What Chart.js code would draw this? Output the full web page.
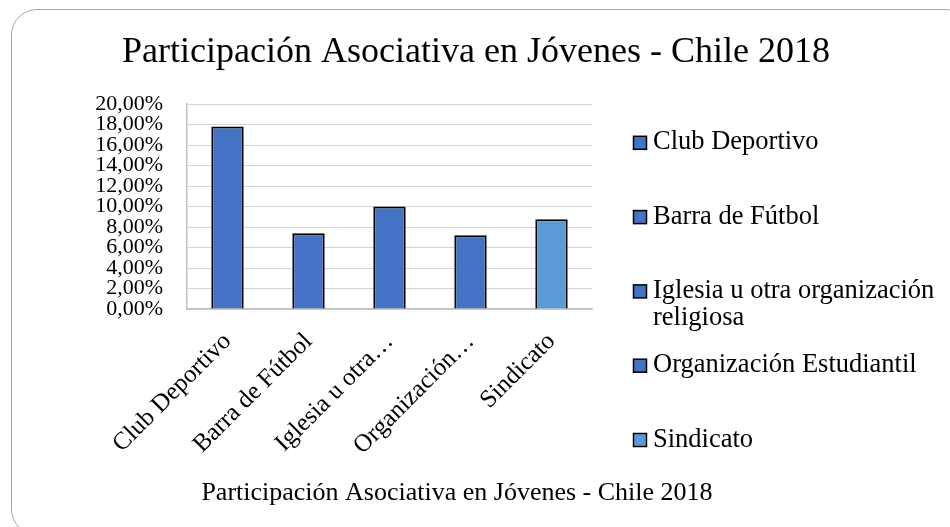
<!DOCTYPE html>
<html>
<head>
<meta charset="utf-8">
<script src="https://cdn.jsdelivr.net/npm/chart.js@4"></script>
<style>
  html, body { margin: 0; padding: 0; background: #fff; overflow: hidden; }
  #wrap { position: relative; width: 950px; height: 527px; }
  #frame {
    position: absolute; left: 11px; top: 9px; width: 960px; height: 526px;
    border: 1.5px solid #a6a6a6; border-radius: 26px; box-sizing: border-box;
  }
  #myChart { position: absolute; left: 0; top: 0; }
</style>
</head>
<body>
<div id="wrap">
  <div id="frame"></div>
  <canvas id="myChart" width="950" height="527"></canvas>
</div>
<script>
// Chart data
const categories = ['Club Deportivo', 'Barra de Fútbol', 'Iglesia u otra organización religiosa', 'Organización Estudiantil', 'Sindicato'];
const tickLabels = ['Club Deportivo', 'Barra de Fútbol', 'Iglesia u otra…', 'Organización…', 'Sindicato'];
const values = [17.8, 7.4, 10.0, 7.2, 8.75];
const barColors = ['#4472C4', '#4472C4', '#4472C4', '#4472C4', '#5B9BD5'];
const chartTitle = 'Participación Asociativa en Jóvenes - Chile 2018';

const serif = "'Times New Roman', 'Liberation Serif', serif";

// Helper to wrap legend text into lines
function wrapText(ctx, text, maxWidth) {
  const words = text.split(' ');
  const lines = [];
  let line = '';
  words.forEach(word => {
    const test = line ? line + ' ' + word : word;
    if (ctx.measureText(test).width > maxWidth && line) {
      lines.push(line);
      line = word;
    } else {
      line = test;
    }
  });
  if (line) lines.push(line);
  return lines;
}

// Draws titles and the legend the way the spreadsheet does
const decorations = {
  id: 'decorations',
  afterDraw(chart) {
    const ctx = chart.ctx;
    ctx.save();
    ctx.fillStyle = '#000';
    ctx.textAlign = 'center';
    ctx.textBaseline = 'alphabetic';
    ctx.font = `36px ${serif}`;
    ctx.fillText(chartTitle, 476, 62);
    ctx.font = `26px ${serif}`;
    ctx.fillText(chartTitle, 457, 500);

    // legend
    ctx.textAlign = 'left';
    ctx.font = `26.5px ${serif}`;
    categories.forEach((label, i) => {
      const baseY = 149.3 + i * 74.3;
      ctx.fillStyle = barColors[i];
      ctx.fillRect(633.5, baseY - 13, 13, 13);
      ctx.strokeStyle = '#000';
      ctx.lineWidth = 1.5;
      ctx.strokeRect(633.5, baseY - 13, 13, 13);
      ctx.fillStyle = '#000';
      const lines = wrapText(ctx, label, 292);
      lines.forEach((ln, j) => ctx.fillText(ln, 653, baseY + j * 27));
    });
    ctx.restore();
  }
};

const ctx = document.getElementById('myChart').getContext('2d');
new Chart(ctx, {
  type: 'bar',
  data: {
    labels: tickLabels,
    datasets: [{
      label: chartTitle,
      data: values,
      backgroundColor: barColors,
      borderColor: '#000',
      borderWidth: 2,
      categoryPercentage: 0.8,
      barPercentage: 0.5
    }]
  },
  options: {
    responsive: false,
    animation: false,
    layout: {
      padding: { top: 104, right: 358, bottom: 0, left: 0 }
    },
    plugins: {
      legend: { display: false },
      title: { display: false },
      tooltip: { enabled: false }
    },
    scales: {
      x: {
        afterFit: scale => { scale.height = 218; },
        grid: { display: false, drawTicks: false },
        border: { display: true, color: '#bfbfbf', width: 1.5 },
        ticks: {
          autoSkip: false,
          minRotation: 45,
          maxRotation: 45,
          padding: 18,
          color: '#000',
          font: { family: serif, size: 25 }
        }
      },
      y: {
        min: 0,
        max: 20,
        afterFit: scale => { scale.width = 187; },
        grid: { color: '#d4d4d4', lineWidth: 1, drawTicks: false },
        border: { display: true, color: '#bfbfbf', width: 1.5 },
        ticks: {
          autoSkip: false,
          stepSize: 2,
          padding: 24,
          color: '#000',
          font: { family: serif, size: 22, lineHeight: 1 },
          callback: v => v.toFixed(2).replace('.', ',') + '%'
        }
      }
    }
  },
  plugins: [decorations]
});
</script>
</body>
</html>
